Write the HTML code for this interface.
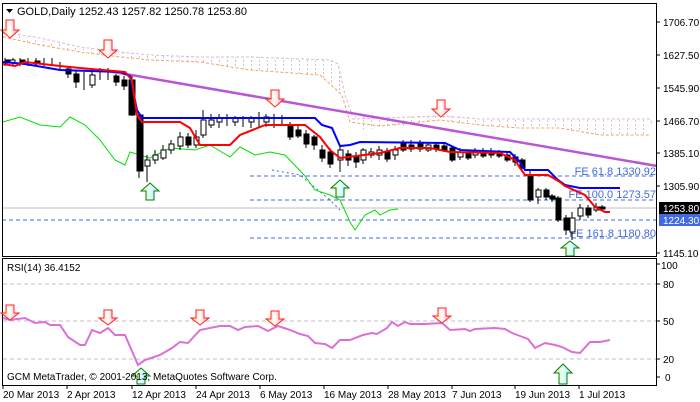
<!DOCTYPE html>
<html><head><meta charset="utf-8"><style>
html,body{margin:0;padding:0;background:#fff;}
svg{display:block;font-family:"Liberation Sans",sans-serif;}
</style></head><body>
<svg width="700" height="402" viewBox="0 0 700 402" xmlns="http://www.w3.org/2000/svg">
<defs>
<pattern id="cl" width="8" height="4" patternUnits="userSpaceOnUse"><rect x="3" y="0" width="1" height="2" fill="#d8bcd8"/></pattern>
<linearGradient id="rg" x1="0" x2="1"><stop offset="0" stop-color="#ffd080"/><stop offset="0.5" stop-color="#fff"/><stop offset="1" stop-color="#ff90b0"/></linearGradient>
<linearGradient id="gg" x1="0" x2="1"><stop offset="0" stop-color="#ffe890"/><stop offset="0.5" stop-color="#e0ffff"/><stop offset="1" stop-color="#a0e0ff"/></linearGradient>
</defs>
<rect width="700" height="402" fill="#fff"/>
<polygon points="3,32 40,40 80,48 120,52 150,55 200,58 250,57 330,60 338,65 345,95 352,115 400,118 440,112 480,119 560,119 650,119 650,135 600,135 560,128 520,128 480,125 440,120 400,126 360,130 345,95 320,75 250,70 200,62 150,60 120,57 80,52 40,45 3,37" fill="url(#cl)"/>
<polyline points="3,32 40,38 80,47 120,52 150,55 200,57 250,57 330,60 338,64 345,95 352,115" fill="none" stroke="#d8bcd8" stroke-dasharray="3,2"/>
<polyline points="352,119 440,116 480,119 650,119 652,124" fill="none" stroke="#d8bcd8" stroke-dasharray="3,2"/>
<polyline points="3,37 40,45 80,52 120,57 150,60 200,62 250,70 320,75 342,95 350,122 380,126 440,120 480,125 520,128 560,128 600,135 650,135" fill="none" stroke="#f4a460" stroke-dasharray="3,2"/>
<g stroke="#4169e1" stroke-dasharray="4,3" stroke-width="1">
<line x1="250" y1="176" x2="657" y2="176"/>
<line x1="250" y1="200" x2="657" y2="200"/>
<line x1="2" y1="220" x2="657" y2="220"/>
<line x1="250" y1="238" x2="657" y2="238"/>
</g>
<polyline points="272,170 300,175 330,200 340,210" fill="none" stroke="#4169e1" stroke-dasharray="2,3"/>
<line x1="2" y1="208" x2="657" y2="208" stroke="#c0c0c0"/>
<g fill="#4169e1" font-size="11" text-anchor="end">
<text x="656" y="175">FE 61.8 1330.92</text>
<text x="656" y="198">FE 100.0 1273.57</text>
<text x="656" y="237">FE 161.8 1180.80</text>
</g>
<line x1="108" y1="71" x2="657" y2="166" stroke="#ba55d3" stroke-width="2.5"/>
<polyline points="3,122 20,117 40,125 60,127 70,117 85,125 100,140 115,160 125,165 130,152 150,158 170,148 195,150 210,145 230,157 240,147 255,155 270,152 285,155 305,176 315,190 330,195 340,200 350,222 355,230 365,215 375,210 380,215 390,210 398,209" fill="none" stroke="#00e000" stroke-width="1"/>
<g stroke="#000" stroke-width="1">
<path d="M5,58V66M13,58V66M20,58V66M28,58V66M36,58V66M44,58V66M52,58V66M60,62V70M68,66V78M76,70V88M84,72V90M92,70V88M100,68V80M108,68V80M116,74V86M124,76V90M132,76V116M139,112V178M147,155V182M155,150V164M163,145V160M171,140V154M180,132V150M188,133V148M196,130V148M203,110V138M211,114V128M219,114V128M227,114V126M235,116V126M243,116V127M251,116V128M259,112V128M266,114V127M274,114V128M282,115V126M290,122V140M298,126V138M306,130V148M314,135V150M322,145V162M330,148V168M340,146V172M348,150V166M356,152V168M363,148V164M371,148V158M379,146V160M387,148V162M395,146V160M403,140V152M411,140V152M420,140V152M428,142V152M436,142V152M444,142V152M452,146V162M460,148V160M468,150V160M475,148V158M483,148V158M491,148V158M499,150V158M507,152V162M515,154V166M522,158V170M530,170V202M538,188V204M546,188V200M552,194V202M558,196V222M566,215V235M572,212V240M580,204V220M588,205V218M596,203V212M602,205V210"/>
<g fill="#000">
<rect x="6" y="60" width="4" height="3"/><rect x="20" y="60" width="5" height="3"/><rect x="35" y="61" width="5" height="3"/><rect x="66" y="69" width="5" height="5"/><rect x="74" y="74" width="5" height="8"/><rect x="114" y="76" width="5" height="6"/><rect x="122" y="80" width="5" height="6"/><rect x="129" y="80" width="6" height="35"/><rect x="137" y="115" width="6" height="56"/><rect x="186" y="137" width="5" height="8"/><rect x="288" y="125" width="5" height="12"/><rect x="296" y="130" width="5" height="6"/><rect x="304" y="134" width="5" height="10"/><rect x="312" y="137" width="5" height="8"/><rect x="320" y="150" width="5" height="8"/><rect x="328" y="152" width="5" height="12"/><rect x="346" y="154" width="5" height="6"/><rect x="354" y="156" width="5" height="6"/><rect x="385" y="152" width="5" height="7"/><rect x="401" y="143" width="5" height="7"/><rect x="409" y="145" width="5" height="4"/><rect x="418" y="143" width="5" height="6"/><rect x="434" y="145" width="5" height="4"/><rect x="442" y="146" width="5" height="4"/><rect x="450" y="148" width="5" height="12"/><rect x="466" y="153" width="5" height="5"/><rect x="481" y="152" width="5" height="4"/><rect x="489" y="151" width="5" height="4"/><rect x="497" y="152" width="5" height="4"/><rect x="505" y="155" width="5" height="5"/><rect x="513" y="157" width="5" height="5"/><rect x="520" y="160" width="5" height="8"/><rect x="528" y="175" width="5" height="25"/><rect x="544" y="190" width="5" height="7"/><rect x="550" y="196" width="5" height="3"/><rect x="556" y="198" width="5" height="22"/><rect x="564" y="218" width="5" height="12"/><rect x="586" y="208" width="5" height="7"/><rect x="600" y="207" width="5" height="2"/>
</g>
<g fill="#fff">
<rect x="10" y="60" width="5" height="3"/><rect x="90" y="75" width="5" height="10"/><rect x="145" y="160" width="5" height="6"/><rect x="153" y="155" width="5" height="5"/><rect x="161" y="150" width="5" height="8"/><rect x="169" y="144" width="5" height="6"/><rect x="178" y="137" width="5" height="9"/><rect x="194" y="137" width="5" height="8"/><rect x="201" y="120" width="5" height="15"/><rect x="209" y="120" width="5" height="5"/><rect x="217" y="118" width="5" height="4"/><rect x="233" y="118" width="5" height="4"/><rect x="249" y="118" width="5" height="4"/><rect x="264" y="117" width="5" height="5"/><rect x="338" y="150" width="5" height="10"/><rect x="361" y="150" width="5" height="10"/><rect x="369" y="152" width="5" height="3"/><rect x="377" y="150" width="5" height="5"/><rect x="393" y="150" width="5" height="5"/><rect x="426" y="145" width="5" height="5"/><rect x="458" y="152" width="5" height="5"/><rect x="473" y="151" width="5" height="4"/><rect x="536" y="190" width="5" height="7"/><rect x="570" y="218" width="5" height="14"/><rect x="578" y="208" width="5" height="8"/><rect x="594" y="207" width="5" height="3"/>
</g>
</g>
<polyline points="3,62 25,64 60,70 120,72 130,76 137,110 142,118 315,118 322,125 332,128 340,146 350,145 360,142 445,143 460,150 510,152 520,162 525,170 548,170 558,180 565,185 580,188 620,188" fill="none" stroke="#0000ff" stroke-width="2"/>
<polyline points="3,64 15,66 25,62 60,66 80,68 125,72 132,80 137,115 142,122 180,122 190,128 200,145 230,145 240,135 265,125 305,125 320,137 330,150 340,158 380,153 400,148 430,148 450,152 500,153 515,160 520,168 525,175 548,175 560,182 565,186 585,195 595,207 605,212 610,212" fill="none" stroke="#ff0000" stroke-width="2"/>
<g stroke-width="1">
<g fill="url(#rg)" stroke="#ff2020"><path d="M6,20H14V30H19L10,38L1,30H6Z"/><path d="M104,40H112V50H117L108,58L99,50H104Z"/><path d="M271,90H279V99H284L275,107L266,99H271Z"/><path d="M437,100H445V109H450L441,117L432,109H437Z"/></g>
<g fill="url(#gg)" stroke="#008000"><path d="M146,200H154V191H159L150,183L141,191H146Z"/><path d="M336,197H344V188H349L340,180L331,188H336Z"/><path d="M566,256H574V248H579L570,241L561,248H566Z"/></g>
</g>
<rect x="2.5" y="3.5" width="654" height="253" fill="none" stroke="#000"/>
<rect x="2.5" y="258.5" width="654" height="127" fill="none" stroke="#000"/>
<text x="17" y="15" font-size="11" fill="#000">GOLD,Daily  1252.43 1257.82 1250.78 1253.80</text>
<path d="M6,9H13L9.5,13Z" fill="#000"/>
<g font-size="10" fill="#000">
<path d="M657,22h3M657,55h3M657,88h3M657,121h3M657,153h3M657,186h3M657,253h3" stroke="#000"/>
<text x="663" y="26">1706.70</text><text x="663" y="59">1627.50</text><text x="663" y="92">1545.90</text><text x="663" y="125">1466.70</text><text x="663" y="157">1385.10</text><text x="663" y="190">1305.90</text><text x="663" y="257">1145.10</text>
<rect x="659" y="202" width="41" height="12" fill="#000"/><text x="663" y="212" fill="#fff">1253.80</text>
<rect x="659" y="214" width="41" height="12" fill="#4169e1"/><text x="663" y="224" fill="#fff">1224.30</text>
</g>
<g stroke="#c0c0c0" stroke-dasharray="4,3"><line x1="3" y1="284" x2="656" y2="284"/><line x1="3" y1="321" x2="656" y2="321"/><line x1="3" y1="359" x2="656" y2="359"/></g>
<polyline points="3,318 10,320 25,318 35,323 45,322 50,325 60,325 68,337 80,345 85,345 92,330 100,333 108,328 115,335 125,335 138,365 145,360 160,355 172,348 180,342 188,343 200,330 210,328 220,326 230,326 238,330 245,327 258,326 268,331 278,326 290,330 300,334 308,336 315,343 325,344 332,348 340,340 350,340 363,335 372,333 377,334 387,328 392,322 398,326 405,322 410,324 425,324 442,323 450,330 465,329 470,331 475,329 495,328 505,329 512,333 520,336 528,339 535,348 545,343 555,345 562,347 572,352 580,353 590,342 600,342 610,340" fill="none" stroke="#da70d6" stroke-width="2"/>
<g fill="url(#rg)" stroke="#ff2020"><path d="M6,305H14V313H19L10,320L1,313H6Z"/><path d="M104,310H112V318H117L108,325L99,318H104Z"/><path d="M196,310H204V318H209L200,325L191,318H196Z"/><path d="M271,311H279V319H284L275,326L266,319H271Z"/><path d="M438,308H446V316H451L442,323L433,316H438Z"/></g>
<g fill="url(#gg)" stroke="#008000"><path d="M137,384H145V376H150L141,368L132,376H137Z"/><path d="M559,384H567V373H572L563,364L554,373H559Z"/></g>
<text x="7" y="271" font-size="10" fill="#000">RSI(14) 36.4152</text>
<text x="7" y="380" font-size="10" fill="#000">GCM MetaTrader, © 2001-2013, MetaQuotes Software Corp.</text>
<g font-size="10" fill="#000">
<path d="M657,264h3M657,284h3M657,321h3M657,359h3M657,377h3" stroke="#000"/>
<text x="661" y="269">100</text><text x="663" y="288">80</text><text x="663" y="325">50</text><text x="663" y="363">20</text><text x="665" y="381">0</text>
</g>
<g stroke="#000"><path d="M3,385v4M67,385v4M132,385v4M196,385v4M260,385v4M324,385v4M388,385v4M452,385v4M515,385v4M579,385v4"/></g>
<g font-size="10" fill="#000">
<text x="3" y="398">20 Mar 2013</text><text x="67" y="398">2 Apr 2013</text><text x="132" y="398">12 Apr 2013</text><text x="196" y="398">24 Apr 2013</text><text x="260" y="398">6 May 2013</text><text x="324" y="398">16 May 2013</text><text x="388" y="398">28 May 2013</text><text x="452" y="398">7 Jun 2013</text><text x="515" y="398">19 Jun 2013</text><text x="579" y="398">1 Jul 2013</text>
</g>
</svg>
</body></html>
